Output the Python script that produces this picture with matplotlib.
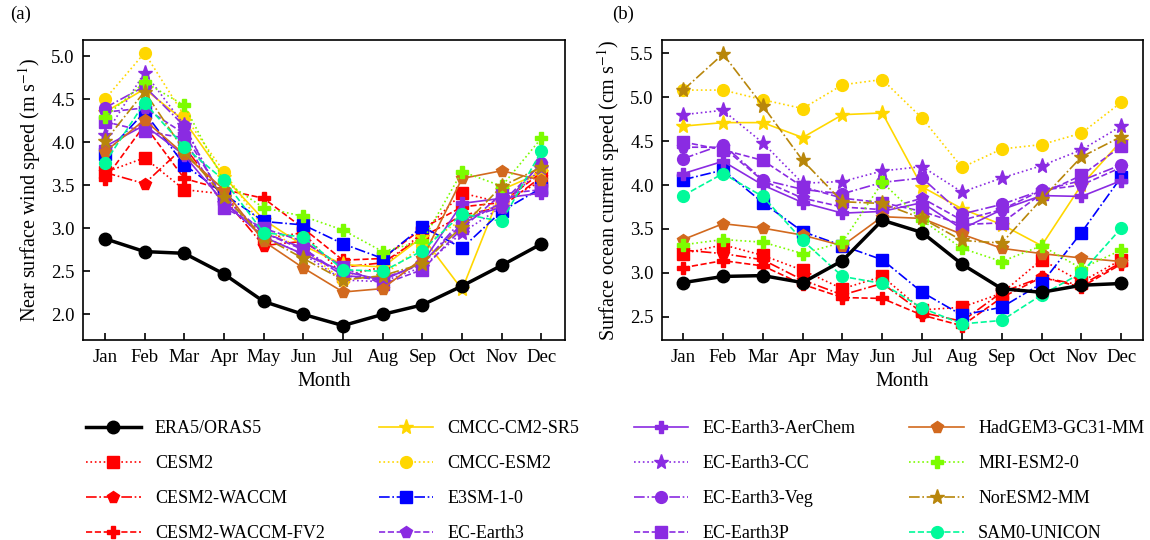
import numpy as np
import matplotlib.pyplot as plt

plt.rcParams['font.family'] = ['Liberation Serif', 'DejaVu Serif']
plt.rcParams['mathtext.fontset'] = 'stix'

months = ['Jan', 'Feb', 'Mar', 'Apr', 'May', 'Jun', 'Jul', 'Aug', 'Sep', 'Oct', 'Nov', 'Dec']

names = ['ERA5/ORAS5', 'CESM2', 'CESM2-WACCM', 'CESM2-WACCM-FV2',
         'CMCC-CM2-SR5', 'CMCC-ESM2', 'E3SM-1-0', 'EC-Earth3',
         'EC-Earth3-AerChem', 'EC-Earth3-CC', 'EC-Earth3-Veg', 'EC-Earth3P',
         'HadGEM3-GC31-MM', 'MRI-ESM2-0', 'NorESM2-MM', 'SAM0-UNICON']

# (a) near surface wind speed, m/s
wind = {
    'ERA5/ORAS5':        [2.88, 2.73, 2.71, 2.47, 2.15, 2.00, 1.87, 2.00, 2.11, 2.33, 2.57, 2.82],
    'CESM2':             [3.65, 3.82, 3.45, 3.40, 2.88, 2.95, 2.45, 2.55, 2.95, 3.41, 3.30, 3.55],
    'CESM2-WACCM':       [3.65, 3.52, 3.95, 3.35, 2.80, 2.85, 2.55, 2.60, 2.90, 3.15, 3.25, 3.60],
    'CESM2-WACCM-FV2':   [3.57, 4.20, 3.58, 3.45, 3.35, 3.00, 2.63, 2.65, 3.00, 3.25, 3.30, 3.65],
    'CMCC-CM2-SR5':      [4.35, 4.62, 4.25, 3.60, 3.10, 2.80, 2.58, 2.55, 2.90, 2.29, 3.45, 3.65],
    'CMCC-ESM2':         [4.50, 5.04, 4.31, 3.66, 3.00, 2.75, 2.40, 2.45, 2.80, 3.10, 3.30, 3.70],
    'E3SM-1-0':          [3.86, 4.35, 3.74, 3.40, 3.08, 3.04, 2.82, 2.65, 3.02, 2.77, 3.20, 3.47],
    'EC-Earth3':         [4.35, 4.40, 4.10, 3.35, 2.95, 2.75, 2.45, 2.40, 2.60, 3.05, 3.30, 3.75],
    'EC-Earth3-AerChem': [3.95, 4.20, 3.85, 3.30, 2.90, 2.70, 2.50, 2.40, 2.60, 3.29, 3.35, 3.41],
    'EC-Earth3-CC':      [4.08, 4.81, 4.20, 3.30, 2.90, 2.70, 2.40, 2.38, 2.55, 2.95, 3.25, 3.70],
    'EC-Earth3-Veg':     [4.40, 4.65, 4.19, 3.30, 2.95, 2.77, 2.45, 2.42, 2.58, 3.10, 3.25, 3.76],
    'EC-Earth3P':        [4.24, 4.13, 4.05, 3.24, 3.00, 2.85, 2.55, 2.35, 2.52, 3.00, 3.40, 3.45],
    'HadGEM3-GC31-MM':   [3.89, 4.26, 3.86, 3.45, 2.85, 2.54, 2.26, 2.30, 2.65, 3.58, 3.67, 3.56],
    'MRI-ESM2-0':        [4.29, 4.70, 4.43, 3.55, 3.24, 3.14, 2.98, 2.73, 2.85, 3.66, 3.49, 4.05],
    'NorESM2-MM':        [4.01, 4.59, 3.90, 3.37, 2.90, 2.65, 2.40, 2.45, 2.59, 3.02, 3.49, 3.71],
    'SAM0-UNICON':       [3.76, 4.46, 3.95, 3.56, 2.95, 2.90, 2.52, 2.50, 2.74, 3.17, 3.08, 3.90],
}

# (b) surface ocean current speed, cm/s
current = {
    'ERA5/ORAS5':        [2.89, 2.96, 2.97, 2.89, 3.14, 3.60, 3.46, 3.10, 2.82, 2.78, 2.86, 2.88],
    'CESM2':             [3.22, 3.32, 3.20, 3.03, 2.82, 2.96, 2.58, 2.61, 2.77, 3.15, 2.90, 3.15],
    'CESM2-WACCM':       [3.26, 3.22, 3.15, 2.92, 2.75, 2.88, 2.55, 2.45, 2.78, 2.95, 2.86, 3.12],
    'CESM2-WACCM-FV2':   [3.06, 3.14, 3.08, 2.87, 2.72, 2.71, 2.52, 2.40, 2.72, 2.95, 2.84, 3.10],
    'CMCC-CM2-SR5':      [4.67, 4.71, 4.71, 4.54, 4.80, 4.82, 3.98, 3.73, 3.55, 3.31, 4.00, 4.50],
    'CMCC-ESM2':         [5.08, 5.08, 4.97, 4.87, 5.14, 5.20, 4.76, 4.20, 4.41, 4.46, 4.59, 4.94],
    'E3SM-1-0':          [4.06, 4.17, 3.80, 3.47, 3.31, 3.15, 2.78, 2.52, 2.61, 2.88, 3.46, 4.09],
    'EC-Earth3':         [4.43, 4.43, 4.05, 3.85, 3.75, 3.72, 3.85, 3.60, 3.72, 3.94, 4.00, 4.20],
    'EC-Earth3-AerChem': [4.13, 4.27, 4.00, 3.80, 3.68, 3.70, 3.80, 3.50, 3.72, 3.88, 3.87, 4.05],
    'EC-Earth3-CC':      [4.80, 4.85, 4.48, 4.02, 4.04, 4.16, 4.21, 3.92, 4.08, 4.22, 4.40, 4.67],
    'EC-Earth3-Veg':     [4.30, 4.46, 4.06, 3.95, 3.90, 4.03, 4.08, 3.67, 3.78, 3.94, 4.05, 4.23],
    'EC-Earth3P':        [4.49, 4.40, 4.28, 3.98, 3.85, 3.80, 3.70, 3.55, 3.57, 3.90, 4.11, 4.44],
    'HadGEM3-GC31-MM':   [3.38, 3.56, 3.51, 3.43, 3.31, 3.64, 3.62, 3.44, 3.28, 3.22, 3.17, 3.13],
    'MRI-ESM2-0':        [3.32, 3.38, 3.35, 3.22, 3.35, 4.03, 3.60, 3.28, 3.13, 3.31, 3.05, 3.26],
    'NorESM2-MM':        [5.08, 5.49, 4.90, 4.28, 3.81, 3.79, 3.62, 3.37, 3.34, 3.84, 4.32, 4.55],
    'SAM0-UNICON':       [3.88, 4.13, 3.87, 3.37, 2.96, 2.88, 2.60, 2.42, 2.46, 2.75, 3.00, 3.51],
}

styles = {
    'ERA5/ORAS5':        ('black', '-', 'o'),
    'CESM2':             ('red', ':', 's'),
    'CESM2-WACCM':       ('red', '-.', 'p'),
    'CESM2-WACCM-FV2':   ('red', '--', 'P'),
    'CMCC-CM2-SR5':      ('gold', '-', '*'),
    'CMCC-ESM2':         ('gold', ':', 'o'),
    'E3SM-1-0':          ('blue', '-.', 's'),
    'EC-Earth3':         ('blueviolet', '--', 'p'),
    'EC-Earth3-AerChem': ('blueviolet', '-', 'P'),
    'EC-Earth3-CC':      ('blueviolet', ':', '*'),
    'EC-Earth3-Veg':     ('blueviolet', '-.', 'o'),
    'EC-Earth3P':        ('blueviolet', '--', 's'),
    'HadGEM3-GC31-MM':   ('chocolate', '-', 'p'),
    'MRI-ESM2-0':        ('lawngreen', ':', 'P'),
    'NorESM2-MM':        ('darkgoldenrod', '-.', '*'),
    'SAM0-UNICON':       ('mediumspringgreen', '--', 'o'),
}

x = np.arange(12)

fig = plt.figure(figsize=(11.5, 5.4), dpi=100)
ax1 = fig.add_axes([0.0722, 0.370, 0.419, 0.556])
ax2 = fig.add_axes([0.5757, 0.370, 0.418, 0.556])


def draw(ax, data):
    for name in names[1:] + names[:1]:
        c, ls, mk = styles[name]
        if name == 'ERA5/ORAS5':
            ax.plot(x, data[name], color=c, ls=ls, marker=mk, lw=2.5, ms=9,
                    label=name, zorder=5)
        else:
            ms = 11 if mk == '*' else 8.5
            ax.plot(x, data[name], color=c, ls=ls, marker=mk, lw=1.2, ms=ms,
                    label=name)
    ax.set_xticks(x)
    ax.set_xticklabels(months)
    ax.tick_params(direction='in', labelsize=13.5, length=5, width=1.2, pad=6)
    ax.set_xlabel('Month', fontsize=14.5, labelpad=5)
    for s in ax.spines.values():
        s.set_linewidth(1.2)


draw(ax1, wind)
ax1.set_xlim(-0.55, 11.59)
ax1.set_ylim(1.70, 5.19)
ax1.set_yticks([2.0, 2.5, 3.0, 3.5, 4.0, 4.5, 5.0])
ax1.set_ylabel('Near surface wind speed (m s$^{-1}$)', fontsize=14.5, labelpad=6)

draw(ax2, current)
ax2.set_xlim(-0.53, 11.54)
ax2.set_ylim(2.235, 5.65)
ax2.set_yticks([2.5, 3.0, 3.5, 4.0, 4.5, 5.0, 5.5])
ax2.set_ylabel('Surface ocean current speed (cm s$^{-1}$)', fontsize=14.5, labelpad=6)

fig.text(0.009, 0.965, '(a)', fontsize=13.5)
fig.text(0.532, 0.965, '(b)', fontsize=13.5)

handles, labels = ax1.get_legend_handles_labels()
order = [labels.index(n) for n in names]
fig.legend([handles[i] for i in order], [labels[i] for i in order],
           loc='upper center', bbox_to_anchor=(0.535, 0.252), ncol=4,
           frameon=False, fontsize=13, columnspacing=3.0, handlelength=3.0,
           handletextpad=0.8, labelspacing=1.0)

fig.savefig('out.png', dpi=100)
